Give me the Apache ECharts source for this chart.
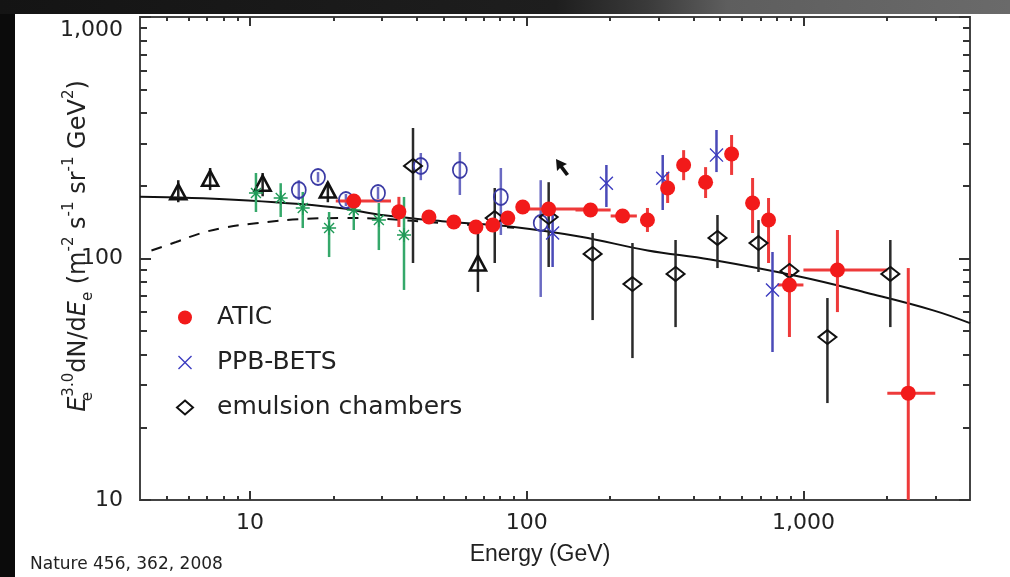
<!DOCTYPE html>
<html>
<head>
<meta charset="utf-8">
<script src="https://cdn.jsdelivr.net/npm/echarts@6/dist/echarts.min.js"></script>
<style>
html,body{margin:0;padding:0;width:1010px;height:577px;overflow:hidden;background:#0b0b0b;}
#frame{position:absolute;left:0;top:0;width:1010px;height:577px;background:#0b0b0b;}
#topband{position:absolute;left:0;top:0;width:1010px;height:14px;background:linear-gradient(90deg,#141414 0%,#1e1e1e 55%,#3a3a3a 64%,#5e5e5e 72%,#6a6a6a 100%);}
#paper{position:absolute;left:15px;top:14px;width:995px;height:563px;background:#ffffff;}
#chart{position:absolute;left:0;top:0;width:1010px;height:577px;}
</style>
</head>
<body>
<div id="frame"><div id="topband"></div><div id="paper"></div></div>
<div id="chart"></div>
<script>
// ---------------- data ----------------
// ATIC (red filled circles)
const atic_E   = [23.7, 34.5, 44.3, 54.5, 65.5, 75.4, 85.4, 96.7, 120, 170, 222, 273, 323, 369, 443, 550, 655, 748, 890, 1327, 2393];
const atic_V   = [173, 156, 148.5, 141.6, 135, 137.6, 147.1, 163.4, 160.3, 158.8, 150, 144.3, 195.8, 243.9, 207, 270.8, 169.8, 144.3, 77.7, 89.6, 27.7];
const atic_lo  = [165, 135, 142, 136, 129, 131, 140, 157, 154, 152, 142, 128.8, 169.8, 211, 178, 221.8, 127.5, 95.8, 47.3, 60, 10];
const atic_hi  = [181, 180, 155, 148, 141, 144, 154, 170, 167, 166, 160, 161.9, 228, 281, 239, 324.6, 215.4, 178, 125.1, 131.2, 91.3];
const atic_xlo = [20.4, null, null, null, null, null, null, null, 100.8, 150, 201, null, null, null, null, null, null, null, 805, 1000, 2010];
const atic_xhi = [32.3, null, null, null, null, null, null, null, 174.6, 201, 250, null, null, null, null, null, null, null, 1000, 2010, 2996];
// PPB-BETS (blue crosses)
const ppb_E  = [124, 194, 310, 485, 773];
const ppb_V  = [127.5, 205, 215, 268, 74.1];
const ppb_lo = [92.2, 163.4, 158.8, 228, 41];
const ppb_hi = [158.8, 243.9, 268.3, 340.5, 106.4];
// emulsion chambers (black open diamonds)
const emul_E  = [38.8, 76.6, 120, 173, 241, 345, 489, 688, 890, 1221, 2061];
const emul_V  = [241.6, 147.1, 148.5, 104.4, 78.4, 86.3, 121.6, 115.9, 88.8, 47.3, 86.3];
const emul_lo = [95.8, 95.8, 92.2, 55.6, 38.7, 52.0, 91.3, 87.9, 85, 25.2, 52.0];
const emul_hi = [347, 195.8, 207, 127.5, 115.9, 119.3, 151.4, 144.3, 93, 68.6, 119.3];
// other data (unlabelled): black open triangles
const tri_E  = [5.5, 7.17, 11.1, 19.1, 66.6];
const tri_V  = [189, 215, 205, 192, 95.8];
const tri_lo = [171, 192, 181, 171, 72.7];
const tri_hi = [211, 237, 226, 207, 127.5];
// green asterisks
const ast_E  = [10.5, 12.9, 15.5, 19.3, 23.7, 29.2, 36.0];
const ast_V  = [186.7, 178, 161.9, 133.7, 158.8, 144.3, 125.1];
const ast_lo = [155.8, 148.5, 133.7, 101.4, 131.2, 108.4, 74.1];
const ast_hi = [226, 205, 188.6, 155.8, 179.8, 169.8, 179.8];
// blue open circles
const circ_E  = [15.0, 17.6, 22.2, 29.0, 41.4, 57.3, 80.6, 112.3];
const circ_V  = [192, 217.5, 174.7, 186.7, 241.6, 232.5, 179.8, 140.3];
const circ_lo = [174.7, 207, 165, 176, 211, 183.2, 125.1, 69.3];
const circ_hi = [211, 228, 185, 198, 273.5, 276, 237, 211];
// model curves
const model_E = [4, 8.75, 20.1, 30.5, 51.9, 89.8, 156.7, 273.5, 461, 975, 1703, 2945, 4000];
const model_V = [180, 175, 163, 151, 142, 135, 123, 108, 99, 84, 72, 61, 54];
const dash_E  = [4.4, 5.4, 6.6, 8, 10.5, 16, 22, 30, 50, 90];
const dash_V  = [108, 117, 127, 134, 140, 146, 147, 146, 140, 134];
// axis ticks
const xMajor = [10, 100, 1000];
const xMinor = [5, 6, 7, 8, 9, 20, 30, 40, 50, 60, 70, 80, 90, 200, 300, 400, 500, 600, 700, 800, 900, 2000, 3000];
const yMajor = [10, 100, 1000];
const yMinor = [20, 30, 40, 50, 60, 70, 80, 90, 200, 300, 400, 500, 600, 700, 800, 900];
const xLabels = {10: '10', 100: '100', 1000: '1,000'};
const yLabels = {10: '10', 100: '100', 1000: '1,000'};

// ---------------- helpers ----------------
function pts(E, V) { return E.map((e, i) => [e, V[i]]); }
function errData(E, V, lo, hi, xlo, xhi) {
  return E.map((e, i) => [e, V[i], lo[i], hi[i], (xlo && xlo[i] != null) ? xlo[i] : '-', (xhi && xhi[i] != null) ? xhi[i] : '-']);
}
function errSeries(name, data, color, width) {
  return {
    type: 'custom', name: name, xAxisIndex: 0, yAxisIndex: 0, z: 3, silent: true,
    encode: {x: 0, y: 1},
    data: data,
    renderItem: function (params, api) {
      const x = api.value(0), y = api.value(1), lo = api.value(2), hi = api.value(3);
      const xl = api.value(4), xh = api.value(5);
      const ch = [];
      const p1 = api.coord([x, lo]), p2 = api.coord([x, hi]);
      ch.push({type: 'line', shape: {x1: p1[0], y1: p1[1], x2: p2[0], y2: p2[1]}, style: {stroke: color, lineWidth: width}});
      if (isFinite(xl) && isFinite(xh)) {
        const q1 = api.coord([xl, y]), q2 = api.coord([xh, y]);
        ch.push({type: 'line', shape: {x1: q1[0], y1: q1[1], x2: q2[0], y2: q2[1]}, style: {stroke: color, lineWidth: width}});
      }
      return {type: 'group', children: ch};
    }
  };
}
const FONT = 'DejaVu Sans';
const tickStyle = {color: '#333', width: 2};
function logX(extra) {
  return Object.assign({type: 'log', logBase: 10, min: 4, max: 4000, axisLine: {show: false}, splitLine: {show: false}}, extra);
}
function logY(extra) {
  return Object.assign({type: 'log', logBase: 10, min: 10, max: 1000, axisLine: {show: false}, splitLine: {show: false}}, extra);
}
const crossPath = 'path://M1.4,0L10,8.6L18.6,0L20,1.4L11.4,10L20,18.6L18.6,20L10,11.4L1.4,20L0,18.6L8.6,10L0,1.4Z';
const astPath = 'path://M9,0h2v20h-2z M0,9h20v2h-20z M2.2,3.6L3.6,2.2L17.8,16.4L16.4,17.8z M3.6,17.8L2.2,16.4L16.4,2.2L17.8,3.6z';

const chart = echarts.init(document.getElementById('chart'), null, {renderer: 'canvas'});
const gridPos = {left: 140, right: 40, top: 17, bottom: 77};
const option = {
  animation: false,
  backgroundColor: 'transparent',
  grid: [
    Object.assign({show: true, borderColor: '#444', borderWidth: 2, backgroundColor: 'transparent', containLabel: false}, gridPos),
    Object.assign({show: false, containLabel: false}, gridPos)
  ],
  xAxis: [
    logX({gridIndex: 0, position: 'bottom', axisTick: {inside: true, length: 4, lineStyle: tickStyle, customValues: xMinor}, axisLabel: {show: false}}),
    logX({gridIndex: 0, position: 'top', axisTick: {inside: true, length: 4, lineStyle: tickStyle, customValues: xMinor}, axisLabel: {show: false}}),
    logX({gridIndex: 1, position: 'bottom', axisTick: {inside: true, length: 9, lineStyle: tickStyle, customValues: xMajor},
      axisLabel: {customValues: xMajor, margin: 12, fontSize: 22, fontFamily: FONT, color: '#222', formatter: v => xLabels[Math.round(v)] || ''}}),
    logX({gridIndex: 1, position: 'top', axisTick: {inside: true, length: 9, lineStyle: tickStyle, customValues: xMajor}, axisLabel: {show: false}})
  ],
  yAxis: [
    logY({gridIndex: 0, position: 'left', axisTick: {inside: true, length: 7, lineStyle: tickStyle, customValues: yMinor}, axisLabel: {show: false}}),
    logY({gridIndex: 0, position: 'right', axisTick: {inside: true, length: 7, lineStyle: tickStyle, customValues: yMinor}, axisLabel: {show: false}}),
    logY({gridIndex: 1, position: 'left', axisTick: {inside: true, length: 11, lineStyle: tickStyle, customValues: yMajor},
      axisLabel: {customValues: yMajor, margin: 17, fontSize: 22, fontFamily: FONT, color: '#222',
        formatter: v => { const s = yLabels[Math.round(v)] || ''; return Math.round(v) === 1000 ? '{t|' + s + '}' : s; },
        rich: {t: {fontSize: 22, fontFamily: FONT, color: '#222', padding: [26, 0, 0, 0]}}}}),
    logY({gridIndex: 1, position: 'right', axisTick: {inside: true, length: 11, lineStyle: tickStyle, customValues: yMajor}, axisLabel: {show: false}})
  ],
  legend: {
    data: ['ATIC', 'PPB-BETS', 'emulsion chambers'],
    orient: 'vertical', left: 171, top: 300, itemWidth: 16, itemHeight: 14, itemGap: 20,
    selectedMode: false,
    textStyle: {fontSize: 25, fontFamily: FONT, color: '#222', padding: [0, 0, 0, 19]}
  },
  series: [
    {type: 'line', name: 'model', data: pts(model_E, model_V), smooth: 0.4, symbol: 'none', silent: true, z: 2,
      lineStyle: {color: '#111', width: 2}},
    {type: 'line', name: 'model (dashed)', data: pts(dash_E, dash_V), smooth: 0.4, symbol: 'none', silent: true, z: 2,
      lineStyle: {color: '#111', width: 2, type: [11, 9]}},
    errSeries('tri err', errData(tri_E, tri_V, tri_lo, tri_hi), '#222', 2.5),
    errSeries('ast err', errData(ast_E, ast_V, ast_lo, ast_hi), '#35a86a', 2.5),
    errSeries('circ err', errData(circ_E, circ_V, circ_lo, circ_hi), '#6a6ac2', 2.5),
    errSeries('emul err', errData(emul_E, emul_V, emul_lo, emul_hi), '#2a2a2a', 2.5),
    errSeries('ppb err', errData(ppb_E, ppb_V, ppb_lo, ppb_hi), '#4a4ab8', 2.5),
    errSeries('atic err', errData(atic_E, atic_V, atic_lo, atic_hi, atic_xlo, atic_xhi), '#ee3a3a', 3),
    {type: 'scatter', name: 'triangles', data: pts(tri_E, tri_V), symbol: 'triangle', symbolSize: [16, 15], z: 5,
      itemStyle: {color: 'rgba(255,255,255,0)', borderColor: '#111', borderWidth: 2.6, opacity: 1}},
    {type: 'scatter', name: 'asterisks', data: pts(ast_E, ast_V), symbol: astPath, symbolSize: 14, z: 5,
      itemStyle: {color: '#1f9a57', opacity: 1}},
    {type: 'scatter', name: 'circles', data: pts(circ_E, circ_V), symbol: 'circle', symbolSize: [14, 16], z: 5,
      itemStyle: {color: 'rgba(255,255,255,0)', borderColor: '#3a3aa4', borderWidth: 1.8, opacity: 1}},
    {type: 'scatter', name: 'emulsion chambers', data: pts(emul_E, emul_V), symbol: 'diamond', symbolSize: [18, 14], z: 5,
      itemStyle: {color: 'rgba(255,255,255,0)', borderColor: '#111', borderWidth: 2, opacity: 1}},
    {type: 'scatter', name: 'PPB-BETS', data: pts(ppb_E, ppb_V), symbol: crossPath, symbolSize: 14, z: 6,
      itemStyle: {color: '#3c3cc0', opacity: 1}},
    {type: 'scatter', name: 'ATIC', data: pts(atic_E, atic_V), symbol: 'circle', symbolSize: 15, z: 7,
      itemStyle: {color: '#f21a1a', opacity: 1}}
  ],
  graphic: [
    {type: 'text', x: 79, y: 246, rotation: Math.PI / 2, z: 10,
      style: {
        text: '{it|E}{sub|e}{sup|3.0}{n|dN/d}{it|E}{sub2|e}{n| (m}{sup|-2}{n| s}{sup|-1}{n| sr}{sup|-1}{n| GeV}{sup|2}{n|)}',
        align: 'center', verticalAlign: 'middle', fill: '#222',
        rich: {
          n: {fontSize: 24, fontFamily: FONT, fill: '#222', lineHeight: 34},
          it: {fontSize: 24, fontFamily: FONT, fontStyle: 'italic', fill: '#222', lineHeight: 34},
          sup: {fontSize: 15, fontFamily: FONT, fill: '#222', lineHeight: 16, verticalAlign: 'top'},
          sub: {fontSize: 15, fontFamily: FONT, fill: '#222', lineHeight: 14, verticalAlign: 'bottom', width: 0},
          sub2: {fontSize: 15, fontFamily: FONT, fill: '#222', lineHeight: 14, verticalAlign: 'bottom'}
        }
      }},
    {type: 'text', x: 540, y: 555, z: 10,
      style: {text: 'Energy (GeV)', font: '23px "Liberation Sans"', fill: '#222', align: 'center', verticalAlign: 'middle'}},
    {type: 'text', x: 30, y: 565, z: 10,
      style: {text: 'Nature 456, 362, 2008', font: '17px "DejaVu Sans"', fill: '#222', align: 'left', verticalAlign: 'middle'}},
    {type: 'polygon', z: 10,
      shape: {points: [[556, 159], [557, 171], [560, 168], [566, 176], [569, 174], [563, 166], [567, 164]]},
      style: {fill: '#111'}}
  ]
};
chart.setOption(option);
</script>
</body>
</html>
